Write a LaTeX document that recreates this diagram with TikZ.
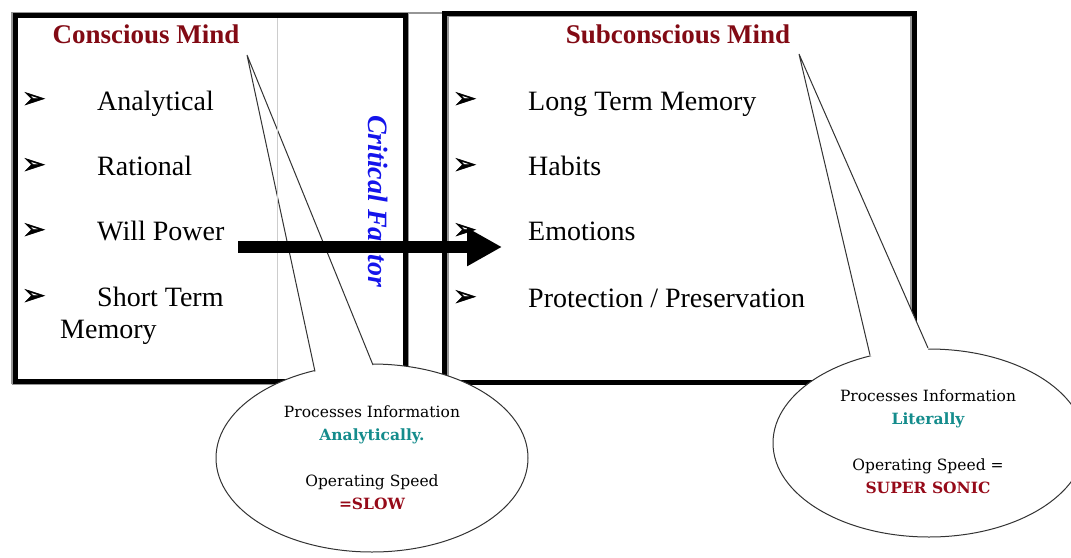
\documentclass[tikz,border=0pt]{standalone}
\usepackage{fontspec}
\setmainfont{Liberation Serif}
\newfontfamily\symfont[FakeBold=2]{DejaVu Sans}
\newfontfamily\bubblefont{DejaVu Serif}
\usetikzlibrary{shapes.geometric, arrows.meta}
\definecolor{titlered}{RGB}{130,10,20}
\definecolor{tealtext}{RGB}{20,140,140}
\definecolor{speedred}{RGB}{150,10,25}
\definecolor{critblue}{RGB}{20,20,235}
\definecolor{rulegray}{RGB}{150,150,150}
\definecolor{lightrule}{RGB}{205,205,205}
\begin{document}
\begin{tikzpicture}[x=1pt,y=-1pt,
  frame/.style={line width=5pt, draw=black},
  shadeline/.style={line width=1.6pt, draw=rulegray},
  title/.style={font=\fontsize{27}{30}\selectfont\bfseries, text=titlered, inner sep=0pt, anchor=base},
  item/.style={font=\fontsize{28}{32}\selectfont, anchor=base west, inner sep=0pt},
  bullet/.style={font=\symfont\fontsize{28}{30}\selectfont, inner sep=0pt},
  bubble/.style={ellipse, draw=black!80, line width=1pt, fill=white,
    minimum width=312pt, minimum height=188pt, inner sep=0pt},
  bubbletext/.style={font=\bubblefont\fontsize{15.5}{23}\selectfont, align=center, inner sep=0pt},
  tailline/.style={draw=black!80, line width=1pt},
]
\useasboundingbox (0,0) rectangle (1071,557);
\clip (0,0) rectangle (1071,557);

% ---- conscious mind panel (thick frame with a grey outer rule) ----
\draw[shadeline] (11.7,384.3) -- (11.7,12.7) -- (444,12.7);
\draw[shadeline] (408.3,12.7) -- (408.3,384.3) -- (11.7,384.3);
\draw[frame] (15,15.5) rectangle (405,381);

\node[title] (consTitle) at (146,43) {Conscious Mind};
\node[bullet] (cb1) at (34,100) {➢};
\node[bullet] (cb2) at (34,166) {➢};
\node[bullet] (cb3) at (34,231) {➢};
\node[bullet] (cb4) at (34,297) {➢};
\node[item] (cAnalytical) at (97,110) {Analytical};
\node[item] (cRational) at (97,175) {Rational};
\node[item] (cWill) at (97,240) {Will Power};
\node[item] (cShort) at (97,306) {Short Term};
\node[item] (cMemory) at (60,338) {Memory};

\node[font=\fontsize{28}{30}\selectfont\bfseries\itshape, text=critblue, rotate=-90, inner sep=0pt]
  (critical) at (378,201) {Critical Factor};

% ---- subconscious mind panel (thick frame with a grey inner rule) ----
\draw[frame] (444.5,13) rectangle (914.5,382);
\draw[shadeline] (447.8,378.7) -- (447.8,16.3) -- (911.2,16.3) -- (911.2,378.7);
\node[title] (subTitle) at (678,43) {Subconscious Mind};
\node[bullet] (sb1) at (465,100) {➢};
\node[bullet] (sb2) at (465,166) {➢};
\node[bullet] (sb3) at (465,231) {➢};
\node[bullet] (sb4) at (465,298) {➢};
\node[item] (sLong) at (528,110) {Long Term Memory};
\node[item] (sHabits) at (528,175) {Habits};
\node[item] (sEmotions) at (528,240) {Emotions};
\node[item] (sProtect) at (528,307) {Protection / Preservation};

% ---- speech bubbles ----
\coordinate (tipL) at (247,55);
\coordinate (baseLa) at (315,371.5);
\coordinate (baseLb) at (373,365);
\node[bubble] (bubL) at (372,458) {};
\fill[white] (tipL) -- (baseLa) -- (372,420) -- (baseLb) -- cycle;
\draw[tailline] (baseLa) -- (tipL) -- (baseLb);
\node[bubbletext] (bubLtext) at (372,458)
  {Processes Information\\ {\bfseries\color{tealtext}Analytically.}\\[23pt]
   Operating Speed\\ {\bfseries\color{speedred}=SLOW}};

\coordinate (tipR) at (799,54);
\coordinate (baseRa) at (870,355);
\coordinate (baseRb) at (928,348);
\node[bubble] (bubR) at (929,443) {};
\fill[white] (tipR) -- (baseRa) -- (929,400) -- (baseRb) -- cycle;
\draw[tailline] (baseRa) -- (tipR) -- (baseRb);
\node[bubbletext] (bubRtext) at (928,441.5)
  {Processes Information\\ {\bfseries\color{tealtext}Literally}\\[23pt]
   Operating Speed =\\ {\bfseries\color{speedred}SUPER SONIC}};

% thin column rule of the left panel
\draw[line width=1.5pt, draw=lightrule] (277.5,18) -- (277.5,378.5);

% ---- transfer arrow ----
\coordinate (arrowStart) at (238,247);
\coordinate (arrowEnd) at (502,247);
\draw[line width=12pt, -{Triangle[length=35pt,width=36pt]}] (arrowStart) -- (arrowEnd);
\end{tikzpicture}
\end{document}
